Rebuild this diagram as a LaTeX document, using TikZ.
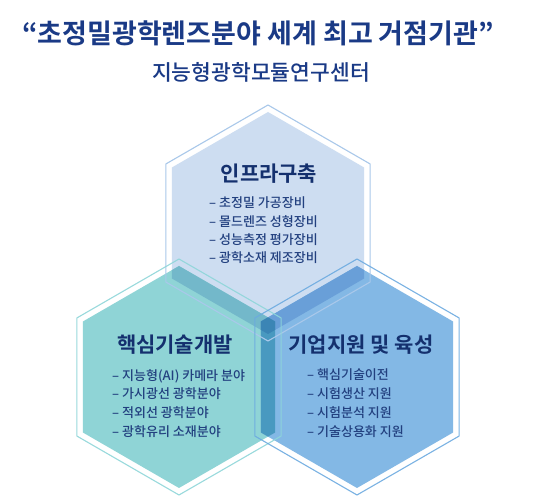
\documentclass[tikz,border=0pt]{standalone}
\usepackage{fontspec}
\setmainfont{Noto Sans CJK KR}
\newfontfamily\krmed{Noto Sans CJK KR Medium}
\newfontfamily\krblack{Noto Sans CJK KR Bold}
\definecolor{topfill}{HTML}{CDDDF1}
\definecolor{leftfill}{HTML}{8FD4D6}
\definecolor{rightfill}{HTML}{83B8E5}
\definecolor{tlfill}{HTML}{73B8CA}
\definecolor{trfill}{HTML}{699FD8}
\definecolor{lrfill}{HTML}{4999C0}
\definecolor{tlrfill}{HTML}{3B85B5}
\definecolor{topline}{HTML}{A9C8EA}
\definecolor{leftline}{HTML}{8ED6D9}
\definecolor{rightline}{HTML}{6CAAE0}
\definecolor{navy}{HTML}{1A3A86}
\definecolor{hexnavy}{HTML}{14306E}
\definecolor{itemnavy}{HTML}{22407F}
\newcommand\hexT[1]{[shift={(268,223)}] (90:#1) -- (150:#1) -- (210:#1) -- (270:#1) -- (330:#1) -- (30:#1) -- cycle}
\newcommand\hexL[1]{[shift={(179,377)}] (90:#1) -- (150:#1) -- (210:#1) -- (270:#1) -- (330:#1) -- (30:#1) -- cycle}
\newcommand\hexR[1]{[shift={(357,377)}] (90:#1) -- (150:#1) -- (210:#1) -- (270:#1) -- (330:#1) -- (30:#1) -- cycle}
\begin{document}
\begin{tikzpicture}[x=1pt,y=-1pt,
  titletext/.style={inner sep=0, text=navy, font=\krblack\fontsize{27}{32}\selectfont},
  subtext/.style={inner sep=0, text=navy, font=\krmed\fontsize{21.5}{26}\selectfont},
  hextitle/.style={inner sep=0, text=hexnavy, font=\krblack\fontsize{21}{25}\selectfont},
  itemtext/.style={inner sep=0, anchor=west, text=itemnavy, font=\krmed\fontsize{13}{16}\selectfont},
  outline/.style={line width=1.1pt}]
\useasboundingbox (0,0) rectangle (550,497);
\fill[white] (0,0) rectangle (550,497);
% fills
\fill[topfill] \hexT{111};
\fill[leftfill] \hexL{111};
\fill[rightfill] \hexR{111};
\begin{scope}
  \clip \hexT{111};
  \fill[tlfill] \hexL{111};
\end{scope}
\begin{scope}
  \clip \hexT{111};
  \fill[trfill] \hexR{111};
\end{scope}
\begin{scope}
  \clip \hexL{111};
  \fill[lrfill] \hexR{111};
\end{scope}
\begin{scope}
  \clip \hexT{111};
  \clip \hexL{111};
  \fill[tlrfill] \hexR{111};
\end{scope}
% outlines
\draw[outline, topline] \hexT{118};
\draw[outline, leftline, opacity=0.9] \hexL{118};
\draw[outline, rightline, opacity=0.9] \hexR{118};
% texts
\node[titletext] (title) at (258,33) {“초정밀광학렌즈분야 세계 최고 거점기관”};
\node[subtext] (sub) at (261,72) {지능형광학모듈연구센터};
\node[hextitle] (ttitle) at (269,174) {인프라구축};
\node[itemtext] (t1) at (209,203) {– 초정밀 가공장비};
\node[itemtext] (t2) at (209,222) {– 몰드렌즈 성형장비};
\node[itemtext] (t3) at (209,240) {– 성능측정 평가장비};
\node[itemtext] (t4) at (209,258) {– 광학소재 제조장비};
\node[hextitle] (ltitle) at (175,345) {핵심기술개발};
\node[itemtext] (l1) at (112,376) {– 지능형(AI) 카메라 분야};
\node[itemtext] (l2) at (112,394) {– 가시광선 광학분야};
\node[itemtext] (l3) at (112,413) {– 적외선 광학분야};
\node[itemtext] (l4) at (112,432) {– 광학유리 소재분야};
\node[hextitle] (rtitle) at (361,345) {기업지원 및 육성};
\node[itemtext] (r1) at (307,375) {– 핵심기술이전};
\node[itemtext] (r2) at (307,394) {– 시험생산 지원};
\node[itemtext] (r3) at (307,413) {– 시험분석 지원};
\node[itemtext] (r4) at (307,432) {– 기술상용화 지원};
\end{tikzpicture}
\end{document}
